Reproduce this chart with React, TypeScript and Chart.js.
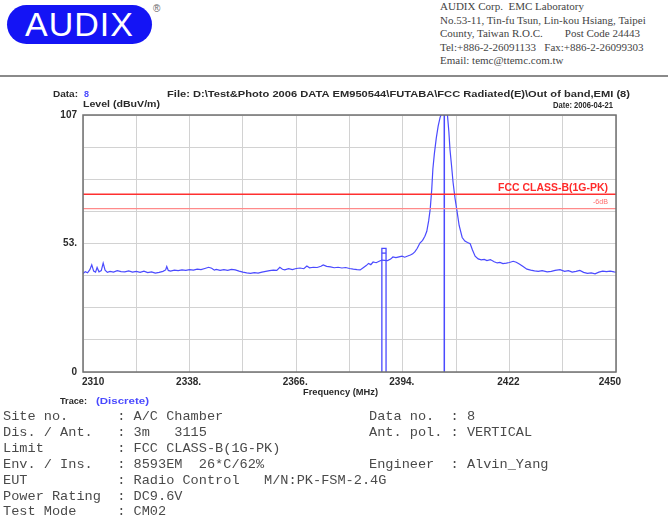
import React, { useEffect, useRef } from "react";
import { Chart, registerables } from "chart.js";

Chart.register(...registerables);

// ---- data ----
const freqMHz = [
  2310.0, 2310.6, 2311.2, 2311.8, 2312.3, 2312.8, 2313.3, 2313.7, 2314.2, 2314.8,
  2315.3, 2315.8, 2316.4, 2317.1, 2318.0, 2319.0, 2320.0, 2321.0, 2322.0, 2323.0,
  2324.0, 2325.0, 2326.0, 2327.0, 2328.0, 2329.0, 2330.0, 2331.0, 2331.7, 2332.0,
  2332.4, 2333.0, 2334.0, 2335.0, 2336.0, 2337.0, 2338.0, 2339.0, 2340.0, 2341.0,
  2342.0, 2343.0, 2343.8, 2344.5, 2345.0, 2346.0, 2347.0, 2348.0, 2349.0, 2350.0,
  2351.0, 2352.0, 2353.0, 2354.0, 2355.0, 2356.0, 2357.0, 2358.0, 2359.0, 2360.0,
  2360.9, 2361.7, 2362.4, 2363.0, 2364.0, 2365.0, 2366.0, 2367.0, 2368.0, 2368.8,
  2369.5, 2370.5, 2371.5, 2372.5, 2373.1, 2374.0, 2375.0, 2376.0, 2377.0, 2378.0,
  2379.0, 2380.0, 2381.0, 2382.0, 2382.8, 2383.6, 2384.4, 2385.0, 2385.6, 2386.2,
  2387.0, 2387.8, 2388.5, 2389.2, 2390.0, 2390.8, 2391.4, 2392.2, 2393.0, 2393.8,
  2394.5, 2395.3, 2396.0, 2396.6, 2397.2, 2397.8, 2398.5, 2399.2, 2399.8, 2400.3,
  2400.8, 2401.2, 2401.6, 2401.9, 2402.3, 2402.8, 2403.3, 2403.8, 2404.3, 2404.8,
  2405.3, 2405.7, 2406.1, 2406.4, 2406.8, 2407.2, 2407.7, 2408.2, 2408.8, 2409.6,
  2410.3, 2411.0, 2411.7, 2412.3, 2413.0, 2413.8, 2414.6, 2415.4, 2416.1, 2417.0,
  2418.0, 2418.8, 2419.5, 2420.3, 2421.2, 2422.0, 2423.0, 2423.8, 2424.6, 2425.5,
  2426.6, 2427.6, 2428.6, 2429.6, 2430.6, 2431.9, 2433.0, 2434.0, 2435.3, 2436.5,
  2437.5, 2438.5, 2439.5, 2440.5, 2441.5, 2442.5, 2443.5, 2444.5, 2445.5, 2446.5,
  2447.5, 2448.5, 2449.5, 2450.0,
];
const levelDbuV = [
  41.0, 41.8, 41.3, 42.6, 44.6, 42.0, 41.6, 43.5, 41.7, 42.2,
  45.3, 42.4, 41.5, 41.9, 41.6, 42.2, 41.8, 41.7, 42.1, 41.6,
  41.9, 41.5, 42.0, 41.4, 41.7, 41.2, 41.5, 41.9, 42.5, 43.9,
  42.3, 42.0, 42.4, 42.2, 42.5, 42.3, 42.6, 42.4, 42.8, 42.6,
  43.1, 43.6, 43.2, 42.4, 42.7, 42.3, 42.6, 42.3, 42.7, 42.5,
  42.0, 41.6, 41.3, 41.1, 41.4, 41.2, 41.6, 41.9, 42.2, 42.4,
  42.3, 43.6, 42.8, 42.5, 43.0, 42.6, 43.1, 43.3, 43.0, 44.1,
  43.4, 43.6, 43.5, 44.0, 44.6, 44.0, 43.8, 43.4, 43.6, 43.3,
  43.5, 43.1, 42.8, 42.6, 42.5, 43.4, 44.3, 45.2, 44.7, 45.8,
  45.5, 46.1, 46.6, 46.5, 46.4, 47.0, 47.9, 47.6, 47.9, 48.2,
  47.8, 48.3, 48.7, 49.2, 50.1, 51.5, 53.7, 54.8, 56.5, 58.6,
  63.0, 67.8, 76.0, 84.5, 91.0, 97.5, 102.5, 106.0, 108.0, 109.0,
  108.5, 107.5, 100.0, 92.5, 86.0, 79.0, 72.5, 67.4, 61.0, 56.0,
  54.5, 53.9, 53.4, 50.8, 48.2, 47.1, 46.7, 46.9, 46.4, 46.8,
  45.9, 45.4, 45.6, 45.1, 45.3, 45.6, 46.1, 45.7, 45.0, 44.0,
  42.8, 42.4, 42.1, 41.9, 42.2, 41.7, 41.9, 42.3, 42.6, 41.9,
  42.2, 41.6, 41.9, 42.3, 41.5, 41.1, 41.3, 40.9, 41.6, 42.0,
  41.8, 42.0, 41.7, 41.6,
];
const limitFreq = [2310, 2450];
const limitLevel = [74, 74];
const marginLevel = [68, 68];
const markerAFreq = [2388.5, 2388.5, 2389.6, 2389.6];
const markerALevel = [0, 51.5, 51.5, 0];
const markerABarFreq = [2388.5, 2389.6];
const markerABarLevel = [49.5, 49.5];
const markerBFreq = [2404.9, 2404.9];
const markerBLevel = [0, 107];

const xGrid = [2310, 2324, 2338, 2352, 2366, 2380, 2394, 2408, 2422, 2436, 2450];
const xLabelValues = [2310, 2338, 2366, 2394, 2422, 2450];
const xLabelText = ["2310", "2338.", "2366.", "2394.", "2422", "2450"];
const yGrid = [0, 13.375, 26.75, 40.125, 53.5, 66.875, 80.25, 93.625, 107];
const yLabelValues = [0, 53.5, 107];
const yLabelText = ["0", "53.", "107"];

const BLUE = "#4a4aff";
const SANS = '"Liberation Sans", Arial, sans-serif';

const pts = (xs: number[], ys: number[]) => xs.map((x, i) => ({ x, y: ys[i] }));

function fitText(
  ctx: CanvasRenderingContext2D,
  text: string,
  x: number,
  y: number,
  w: number,
  align: CanvasTextAlign
) {
  const m = ctx.measureText(text).width || 1;
  const s = w / m;
  ctx.save();
  ctx.translate(x, y);
  ctx.scale(s, 1);
  ctx.textAlign = align;
  ctx.fillText(text, 0, 0);
  ctx.restore();
}

const overlay = {
  id: "overlay",
  afterDraw(chart: any) {
    const { ctx, chartArea: a, scales } = chart;
    ctx.save();
    ctx.strokeStyle = "#707070";
    ctx.lineWidth = 1.5;
    ctx.strokeRect(a.left, a.top, a.right - a.left, a.bottom - a.top);

    ctx.textBaseline = "middle";
    ctx.fillStyle = "#2a2a2a";
    ctx.font = `bold 10px ${SANS}`;
    const last = xLabelValues.length - 1;
    xLabelValues.forEach((v, i) => {
      const px = scales.x.getPixelForValue(v);
      const t = xLabelText[i];
      if (i === 0) {
        ctx.textAlign = "left";
        ctx.fillText(t, px - 1, a.bottom + 10);
      } else if (i === last) {
        ctx.textAlign = "right";
        ctx.fillText(t, px + 5, a.bottom + 10);
      } else {
        ctx.textAlign = "center";
        ctx.fillText(t, px - 1, a.bottom + 10);
      }
    });

    ctx.font = `bold 9px ${SANS}`;
    fitText(ctx, "Data:", 53, 15, 25, "left");
    fitText(ctx, "File: D:\\Test&Photo 2006 DATA EM950544\\FUTABA\\FCC Radiated(E)\\Out of band,EMI (8)", 167, 15, 463, "left");
    fitText(ctx, "Level (dBuV/m)", 83, 25, 77, "left");
    fitText(ctx, "Date: 2006-04-21", 613, 26, 60, "right");
    fitText(ctx, "Frequency (MHz)", 303, 313, 75, "left");
    fitText(ctx, "Trace:", 60, 322, 27, "left");
    ctx.fillStyle = BLUE;
    fitText(ctx, "8", 84, 15, 5, "left");
    fitText(ctx, "(Discrete)", 96, 322, 53, "left");

    ctx.fillStyle = "#ff2a2a";
    ctx.font = `bold 10px ${SANS}`;
    fitText(ctx, "FCC CLASS-B(1G-PK)", 608, 108, 110, "right");
    ctx.fillStyle = "#ff6a6a";
    ctx.font = `8px ${SANS}`;
    fitText(ctx, "-6dB", 608, 122, 15, "right");
    ctx.restore();
  },
};

export default function App() {
  const ref = useRef<HTMLCanvasElement>(null);
  useEffect(() => {
    const chart = new Chart(ref.current as HTMLCanvasElement, {
      type: "line",
      data: {
        datasets: [
          { data: pts(limitFreq, marginLevel), borderColor: "#ff8a8a", borderWidth: 1.2, pointRadius: 0 },
          { data: pts(limitFreq, limitLevel), borderColor: "#ff3030", borderWidth: 1.5, pointRadius: 0 },
          { data: pts(freqMHz, levelDbuV), borderColor: BLUE, borderWidth: 1.2, pointRadius: 0, tension: 0 },
          { data: pts(markerAFreq, markerALevel), borderColor: BLUE, borderWidth: 1.3, pointRadius: 0 },
          { data: pts(markerABarFreq, markerABarLevel), borderColor: BLUE, borderWidth: 1.3, pointRadius: 0 },
          { data: pts(markerBFreq, markerBLevel), borderColor: BLUE, borderWidth: 1.5, pointRadius: 0 },
        ],
      } as any,
      options: {
        animation: false,
        responsive: false,
        maintainAspectRatio: false,
        events: [],
        plugins: { legend: { display: false }, tooltip: { enabled: false } },
        layout: { padding: { left: 0, right: 52, top: 35, bottom: 18 } },
        scales: {
          x: {
            type: "linear",
            min: 2310,
            max: 2450,
            afterBuildTicks: (s: any) => {
              s.ticks = xGrid.map((v) => ({ value: v }));
            },
            afterFit: (s: any) => {
              s.height = 20;
            },
            ticks: { display: false },
            grid: { color: "#d2d2d2", lineWidth: 1, drawTicks: false },
            border: { display: false },
          },
          y: {
            type: "linear",
            min: 0,
            max: 107,
            afterBuildTicks: (s: any) => {
              s.ticks = yGrid.map((v) => ({ value: v }));
            },
            afterFit: (s: any) => {
              s.width = 83;
            },
            ticks: {
              autoSkip: false,
              padding: 6,
              color: "#2a2a2a",
              font: { family: SANS, size: 10, weight: "bold" },
              callback: (v: any) => {
                const i = yLabelValues.findIndex((y) => Math.abs(y - Number(v)) < 0.01);
                return i >= 0 ? yLabelText[i] : "";
              },
            },
            grid: { color: "#d2d2d2", lineWidth: 1, drawTicks: false },
            border: { display: false },
          },
        },
      } as any,
      plugins: [overlay],
    });
    return () => chart.destroy();
  }, []);

  const mono: React.CSSProperties = {
    position: "absolute",
    margin: 0,
    fontFamily: '"Liberation Mono", "Courier New", monospace',
    fontSize: "13.6px",
    lineHeight: "15.9px",
    color: "#4a4a4a",
    whiteSpace: "pre",
  };

  return (
    <div
      style={{
        position: "absolute",
        left: 0,
        top: 0,
        width: 668,
        height: 523,
        overflow: "hidden",
        background: "#fff",
      }}
    >
      <div
        style={{
          position: "absolute",
          left: 7,
          top: 5,
          width: 145,
          height: 39,
          borderRadius: 20,
          background: "#1414f5",
          color: "#fff",
          fontFamily: SANS,
          fontSize: 34,
          fontWeight: 500,
          lineHeight: "39px",
          textAlign: "center",
          letterSpacing: 1,
        }}
      >
        AUDIX
      </div>
      <div style={{ position: "absolute", left: 153, top: 3, fontFamily: SANS, fontSize: 10, color: "#666" }}>®</div>
      <div
        style={{
          position: "absolute",
          left: 440,
          top: 0,
          fontFamily: '"Liberation Serif", serif',
          fontSize: 11,
          lineHeight: "13.5px",
          color: "#444",
          whiteSpace: "pre",
        }}
      >
        {"AUDIX Corp.  EMC Laboratory\nNo.53-11, Tin-fu Tsun, Lin-kou Hsiang, Taipei\nCounty, Taiwan R.O.C.        Post Code 24443\nTel:+886-2-26091133   Fax:+886-2-26099303\nEmail: temc@ttemc.com.tw"}
      </div>
      <div style={{ position: "absolute", left: 0, top: 75, width: 668, height: 2, background: "#8a8a8a" }} />

      <canvas
        ref={ref}
        width={668}
        height={330}
        style={{ position: "absolute", left: 0, top: 80, width: 668, height: 330 }}
      />

      <pre style={{ ...mono, left: 3, top: 409 }}>
        {"Site no.      : A/C Chamber\nDis. / Ant.   : 3m   3115\nLimit         : FCC CLASS-B(1G-PK)\nEnv. / Ins.   : 8593EM  26*C/62%\nEUT           : Radio Control   M/N:PK-FSM-2.4G\nPower Rating  : DC9.6V\nTest Mode     : CM02"}
      </pre>
      <pre style={{ ...mono, left: 369, top: 409 }}>
        {"Data no.  : 8\nAnt. pol. : VERTICAL\n\nEngineer  : Alvin_Yang"}
      </pre>
    </div>
  );
}
